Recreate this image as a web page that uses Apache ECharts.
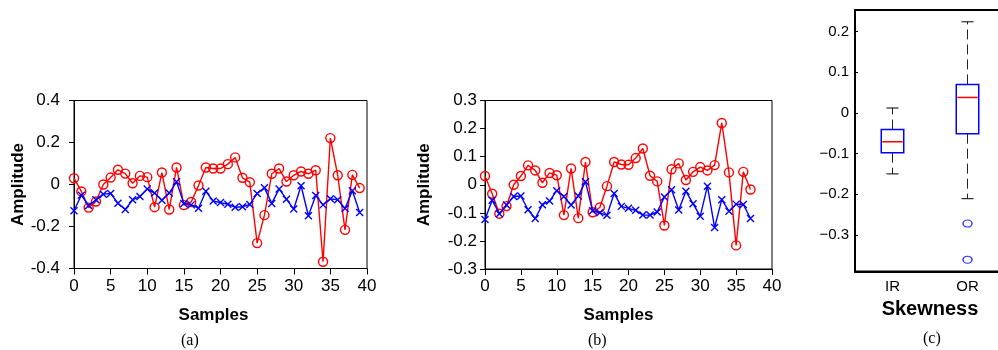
<!DOCTYPE html>
<html>
<head>
<meta charset="utf-8">
<script src="https://cdn.jsdelivr.net/npm/echarts@6/dist/echarts.min.js"></script>
<style>html,body{margin:0;padding:0;background:#fff}#c{width:998px;height:350px}</style>
</head>
<body>
<div id="c"></div>
<script>
// Panel (a): 40 samples
const redA = [0.030,-0.033,-0.110,-0.081,0.000,0.033,0.070,0.052,0.006,0.041,0.035,-0.108,0.057,-0.119,0.081,-0.098,-0.083,-0.005,0.081,0.076,0.076,0.097,0.129,0.032,0.011,-0.279,-0.146,0.051,0.076,0.014,0.044,0.062,0.051,0.068,-0.368,0.221,0.044,-0.216,0.046,-0.017];
const blueA = [-0.125,-0.051,-0.100,-0.073,-0.046,-0.043,-0.089,-0.119,-0.073,-0.057,-0.021,-0.041,-0.075,-0.041,0.013,-0.090,-0.097,-0.113,-0.032,-0.079,-0.086,-0.094,-0.108,-0.106,-0.095,-0.043,-0.016,-0.090,-0.021,-0.070,-0.117,-0.006,-0.149,-0.052,-0.097,-0.068,-0.073,-0.114,-0.030,-0.133];
// Panel (b): 38 samples
const redB = [0.031,-0.032,-0.103,-0.076,0.000,0.031,0.069,0.051,0.007,0.042,0.034,-0.108,0.058,-0.119,0.081,-0.098,-0.081,-0.005,0.081,0.072,0.071,0.095,0.129,0.032,0.012,-0.145,0.055,0.076,0.017,0.046,0.063,0.051,0.070,0.220,0.044,-0.216,0.046,-0.017];
const blueB = [-0.124,-0.055,-0.103,-0.072,-0.042,-0.040,-0.089,-0.120,-0.071,-0.058,-0.021,-0.042,-0.072,-0.040,0.011,-0.093,-0.100,-0.109,-0.031,-0.077,-0.084,-0.091,-0.108,-0.108,-0.097,-0.044,-0.018,-0.090,-0.023,-0.068,-0.112,-0.005,-0.152,-0.053,-0.094,-0.069,-0.070,-0.120];
// Panel (c): box plot of skewness
const boxCategories = ['IR', 'OR'];
const boxLow = [-0.150, -0.211];
const boxQ1 = [-0.098, -0.051];
const boxMedian = [-0.071, 0.038];
const boxQ3 = [-0.041, 0.070];
const boxHigh = [0.012, 0.224];
const outlierCats = ['OR', 'OR'];
const outlierVals = [-0.272, -0.361];

const narrow = "'Liberation Sans Narrow','Arial Narrow','Liberation Sans',Arial,sans-serif";
const sans = "'Liberation Sans',Arial,Helvetica,sans-serif";
const serif = "'Liberation Serif','Times New Roman',serif";

function pairs(arr){ return arr.map((v,i)=>[i,v]); }
const fmt1 = v => { const r = Math.round(v*10)/10; return r === 0 ? '0' : String(r); };
const xMark = 'path://M0,0L10,10M10,0L0,10';

function lineAxes(gi, yMin, yMax, yInt, nameGapY, labelMarginY) {
  return {
    x: {
      type:'value', gridIndex:gi, min:0, max:40, interval:5,
      axisLine:{show:true,onZero:false,lineStyle:{color:'#000',width:1}},
      axisTick:{show:true,inside:false,length:6,lineStyle:{color:'#000'}},
      axisLabel:{color:'#000',fontFamily:narrow,fontSize:17,margin:9},
      splitLine:{show:false},
      name:'Samples', nameLocation:'middle', nameGap:38,
      nameTextStyle:{color:'#000',fontFamily:sans,fontWeight:'bold',fontSize:17,padding:[0,gi===1?20:14,0,0]}
    },
    y: {
      type:'value', gridIndex:gi, min:yMin, max:yMax, interval:yInt,
      axisLine:{show:true,onZero:false,lineStyle:{color:'#000',width:1}},
      axisTick:{show:true,inside:false,length:5,lineStyle:{color:'#000'}},
      axisLabel:{color:'#000',fontFamily:narrow,fontSize:17,margin:labelMarginY,formatter:fmt1},
      splitLine:{show:false},
      name:'Amplitude', nameLocation:'middle', nameGap:nameGapY, nameRotate:90,
      nameTextStyle:{color:'#000',fontFamily:sans,fontWeight:'bold',fontSize:17}
    }
  };
}
const A = lineAxes(0, -0.4, 0.4, 0.2, 45, 14);
const B = lineAxes(1, -0.3, 0.3, 0.1, 52, 8);

function redSeries(gi, arr){
  return {type:'line', xAxisIndex:gi, yAxisIndex:gi, data:pairs(arr), symbol:'circle', symbolSize:9,
    showSymbol:true, animation:false, z:2,
    lineStyle:{color:'#ff0000',width:1.4},
    itemStyle:{color:'rgba(255,255,255,0)',borderColor:'#ff0000',borderWidth:1.4}};
}
function blueSeries(gi, arr){
  return {type:'line', xAxisIndex:gi, yAxisIndex:gi, data:pairs(arr), symbol:xMark, symbolSize:7,
    showSymbol:true, animation:false, z:3,
    lineStyle:{color:'#0000ff',width:1.4},
    itemStyle:{color:'rgba(0,0,255,0)',borderColor:'#0000ff',borderWidth:1.4}};
}

const boxData = boxCategories.map((c,i)=>[i, boxLow[i], boxQ1[i], boxMedian[i], boxQ3[i], boxHigh[i]]);

function renderBox(params, api){
  const ci = api.value(0);
  const low = api.coord([ci, api.value(1)]);
  const q1 = api.coord([ci, api.value(2)]);
  const med = api.coord([ci, api.value(3)]);
  const q3 = api.coord([ci, api.value(4)]);
  const high = api.coord([ci, api.value(5)]);
  const band = api.size([1,0])[0];
  const bw = band*0.3, cw = band*0.16;
  const x = q1[0];
  const dash = {stroke:'#222', lineWidth:1, lineDash:[10,5]};
  return {type:'group', children:[
    {type:'line', shape:{x1:x,y1:q3[1],x2:x,y2:high[1]}, style:dash},
    {type:'line', shape:{x1:x,y1:q1[1],x2:x,y2:low[1]}, style:dash},
    {type:'line', shape:{x1:x-cw/2,y1:high[1],x2:x+cw/2,y2:high[1]}, style:{stroke:'#000',lineWidth:1}},
    {type:'line', shape:{x1:x-cw/2,y1:low[1],x2:x+cw/2,y2:low[1]}, style:{stroke:'#000',lineWidth:1}},
    {type:'rect', shape:{x:x-bw/2,y:q3[1],width:bw,height:q1[1]-q3[1]}, style:{fill:'#fff',stroke:'#0000ff',lineWidth:1.5}},
    {type:'line', shape:{x1:x-bw/2+1,y1:med[1],x2:x+bw/2-1,y2:med[1]}, style:{stroke:'#ff0000',lineWidth:1.5}}
  ]};
}

const chart = echarts.init(document.getElementById('c'), null, {renderer:'canvas'});
chart.setOption({
  animation:false,
  backgroundColor:'#fff',
  grid:[
    {left:74, right:631, top:100.5, bottom:81.5, show:true, borderColor:'#000', borderWidth:1, backgroundColor:'transparent', outerBoundsMode:'none'},
    {left:485, right:226, top:100.5, bottom:81, show:true, borderColor:'#000', borderWidth:1, backgroundColor:'transparent', outerBoundsMode:'none'},
    {left:855, right:-7, top:10, bottom:78.5, show:true, borderColor:'#000', borderWidth:2, backgroundColor:'transparent', outerBoundsMode:'none'}
  ],
  xAxis:[A.x, B.x, {
    type:'category', gridIndex:2, data:boxCategories,
    axisLine:{show:true,onZero:false,lineStyle:{color:'#000',width:2}},
    axisTick:{show:false},
    axisLabel:{color:'#000',fontFamily:sans,fontSize:15,margin:8},
    name:'Skewness', nameLocation:'middle', nameGap:15,
    nameTextStyle:{color:'#000',fontFamily:sans,fontWeight:'bold',fontSize:20}
  }],
  yAxis:[A.y, B.y, {
    type:'value', gridIndex:2, min:-0.39, max:0.253, splitNumber:6,
    axisLine:{show:true,onZero:false,lineStyle:{color:'#000',width:2}},
    axisTick:{show:true,inside:true,length:3,lineStyle:{color:'#000'}},
    axisLabel:{color:'#000',fontFamily:sans,fontSize:15,margin:6,showMinLabel:false,showMaxLabel:false,
      formatter:v=>{ const r=Math.round(v*10)/10; if (Math.abs(r-v)>1e-6) return ''; return r===0?'0':(r<0?'\u2212'+String(-r):String(r)); }},
    splitLine:{show:false}
  }],
  graphic:[
    {type:'text', left:190-9, top:333, style:{text:'(a)', font:'16px '+serif, fill:'#000'}},
    {type:'text', left:597-9, top:333, style:{text:'(b)', font:'16px '+serif, fill:'#000'}},
    {type:'text', left:932-9, top:331, style:{text:'(c)', font:'16px '+serif, fill:'#000'}}
  ],
  series:[
    redSeries(0, redA), blueSeries(0, blueA),
    redSeries(1, redB), blueSeries(1, blueB),
    {type:'custom', xAxisIndex:2, yAxisIndex:2, data:boxData, renderItem:renderBox, encode:{x:0,y:[1,2,3,4,5]}, z:2},
    {type:'scatter', xAxisIndex:2, yAxisIndex:2, data:outlierCats.map((c,i)=>[c, outlierVals[i]]),
      symbol:'circle', symbolSize:[9,7], itemStyle:{color:'rgba(255,255,255,0)',borderColor:'#0000ff',borderWidth:1.3}, z:3}
  ]
});
</script>
</body>
</html>
